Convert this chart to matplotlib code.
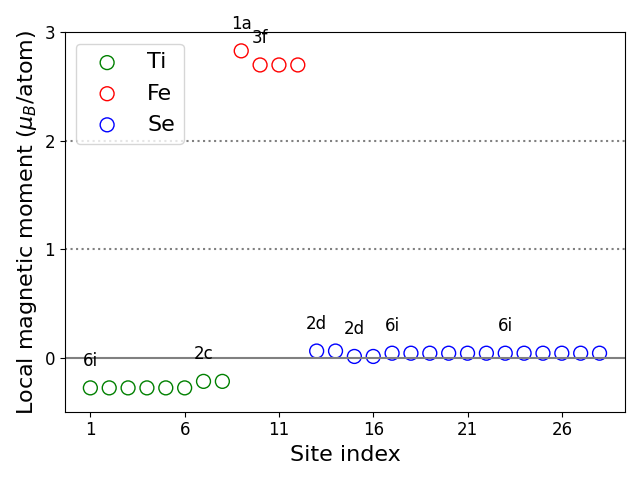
import numpy as np
import matplotlib
matplotlib.use("Agg")
import matplotlib.pyplot as plt

# site index and moments
ti_sites = np.arange(1, 9)
ti_mom = [-0.28, -0.28, -0.28, -0.28, -0.28, -0.28, -0.22, -0.22]
fe_sites = np.arange(9, 13)
fe_mom = [2.83, 2.70, 2.70, 2.70]
se_sites = np.arange(13, 29)
se_mom = [0.06, 0.06, 0.01, 0.01] + [0.04] * 12

# wyckoff labels (site, text)
lab_sites = [1, 7, 9, 10, 13, 15, 17, 23]
lab_text = ["6i", "2c", "1a", "3f", "2d", "2d", "6i", "6i"]

all_sites = np.concatenate([ti_sites, fe_sites, se_sites])
all_mom = np.array(ti_mom + fe_mom + se_mom)

fig, ax = plt.subplots(figsize=(6.4, 4.8), dpi=100)
ax.axhline(0, color="gray", lw=1.5)
ax.axhline(1, color="gray", ls=":", lw=1.5)
ax.axhline(2, color="gray", ls=":", lw=1.5)
ax.scatter(ti_sites, ti_mom, s=100, facecolors="none", edgecolors="green", label="Ti")
ax.scatter(fe_sites, fe_mom, s=100, facecolors="none", edgecolors="red", label="Fe")
ax.scatter(se_sites, se_mom, s=100, facecolors="none", edgecolors="blue", label="Se")

for s, t in zip(lab_sites, lab_text):
    ax.text(s, all_mom[s - 1] + 0.25, t, ha="center", va="center", fontsize=12)

ax.set_ylim(-0.5, 3)
ax.set_xticks([1, 6, 11, 16, 21, 26])
ax.set_yticks([0, 1, 2, 3])
ax.tick_params(labelsize=12)
ax.set_xlabel("Site index", fontsize=16)
ax.set_ylabel(r"Local magnetic moment ($\mu_B$/atom)", fontsize=16)
ax.legend(loc="upper left", fontsize=16)
fig.tight_layout()
fig.savefig("out.png")
